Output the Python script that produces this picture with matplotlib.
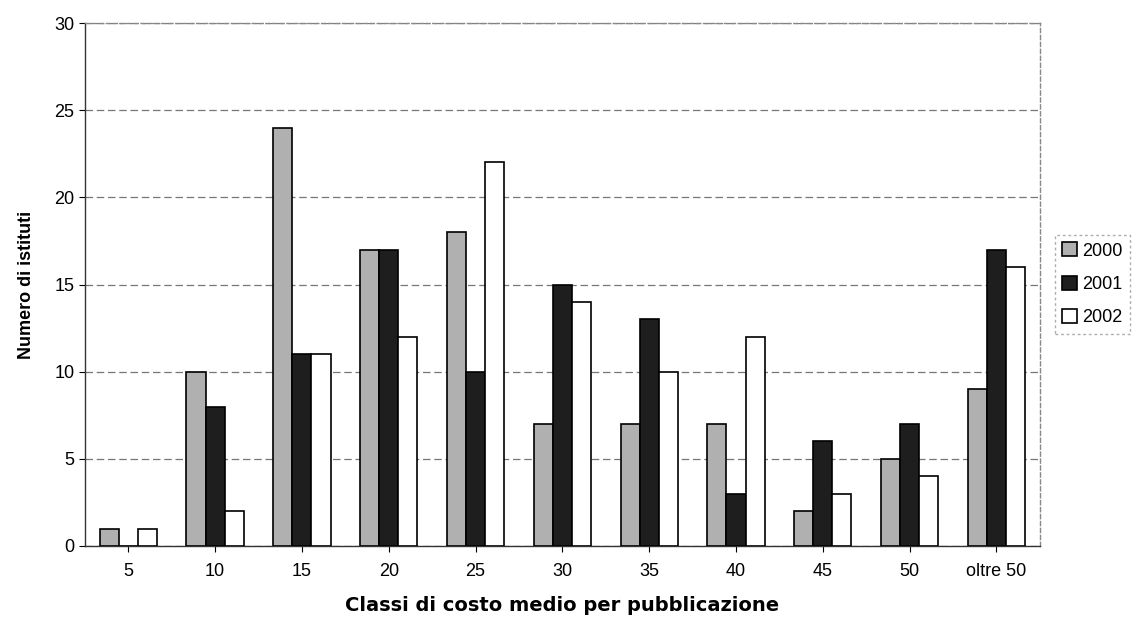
import matplotlib
matplotlib.use("Agg")
import matplotlib.pyplot as plt
import numpy as np

categories = ["5", "10", "15", "20", "25", "30", "35", "40", "45", "50", "oltre 50"]
years = ["2000", "2001", "2002"]
v2000 = [1, 10, 24, 17, 18, 7, 7, 7, 2, 5, 9]
v2001 = [0, 8, 11, 17, 10, 15, 13, 3, 6, 7, 17]
v2002 = [1, 2, 11, 12, 22, 14, 10, 12, 3, 4, 16]

plt.rcParams['font.family'] = ['Liberation Sans', 'DejaVu Sans']

fig = plt.figure(figsize=(11.32, 6.25), dpi=100)
ax = fig.add_axes([0.075, 0.1264, 0.8436, 0.8368])

x = np.arange(len(categories))
w = 0.22
colors = ["#b0b0b0", "#1e1e1e", "#ffffff"]
for i, (vals, c, lab) in enumerate(zip([v2000, v2001, v2002], colors, years)):
    ax.bar(x + (i - 1) * w, vals, width=w, color=c, edgecolor="black", linewidth=1.2, label=lab, zorder=3)

ax.set_xlim(-0.5, len(categories) - 0.5)
ax.set_ylim(0, 30)
ax.set_yticks(range(0, 31, 5))
ax.set_xticks(x)
ax.set_xticklabels(categories)
ax.yaxis.grid(True, color="#777777", linestyle=(0, (6, 3)), linewidth=0.9, zorder=0)
ax.tick_params(axis='both', labelsize=13, length=4)
ax.tick_params(axis='x', pad=8)
for s in ax.spines.values():
    s.set_linewidth(1.0)
    s.set_color("#333333")
ax.spines['top'].set_linestyle((0, (3, 2)))
ax.spines['right'].set_linestyle((0, (3, 2)))
ax.spines['top'].set_color("#888888")
ax.spines['right'].set_color("#888888")

ax.set_ylabel("Numero di istituti", fontsize=13, fontweight='bold', labelpad=14)
ax.set_xlabel("Classi di costo medio per pubblicazione", fontsize=14, fontweight='bold',
              family=['DejaVu Sans'], labelpad=12)

leg = fig.legend(loc='center left', bbox_to_anchor=(0.929, 0.545), fontsize=13, frameon=True,
                 edgecolor="#999999", fancybox=False, handlelength=0.8, handleheight=0.8,
                 handletextpad=0.3, labelspacing=0.9, borderpad=0.4, borderaxespad=0.2)
leg.get_frame().set_linestyle((0, (2, 2)))

fig.savefig("out.png", dpi=100, facecolor="white")
